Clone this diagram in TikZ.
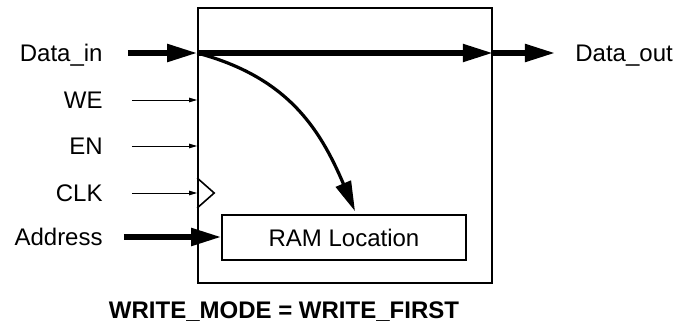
\documentclass[tikz,border=0pt]{standalone}
\usepackage{fontspec}
\setmainfont{Liberation Sans}
\usetikzlibrary{arrows.meta}

\begin{document}
\begin{tikzpicture}[
    x=0.5pt,y=-0.5pt,
    every node/.style={font=\fontsize{12}{14}\selectfont},
    sigtext/.style={inner sep=0pt,text height=8.6pt,text depth=0pt},
    block/.style={draw,line width=0.8pt,inner sep=0pt},
    busarrow/.style={-{Triangle[length=15pt,width=8.5pt]},line width=2.6pt},
    ctrlarrow/.style={-{Triangle[length=4pt,width=2.2pt]},line width=0.5pt},
    writearrow/.style={-{Triangle[length=15pt,width=8pt]},line width=1.6pt}
  ]
  \useasboundingbox (0,0) rectangle (677,322);

  \node[block,minimum width=147pt,minimum height=137.5pt] (mem) at (345,145.5) {};
  \node[block,minimum width=122pt,minimum height=22.5pt] (ram) at (344,237.5) {RAM Location};

  % port names
  \node[sigtext,anchor=east] (din) at (103,53) {Data\_in};
  \node[sigtext,anchor=east] (we) at (103,100) {WE};
  \node[sigtext,anchor=east] (en) at (103,146) {EN};
  \node[sigtext,anchor=east] (clk) at (103,193) {CLK};
  \node[sigtext,anchor=east] (addr) at (103,237) {Address};
  \node[sigtext,anchor=west] (dout) at (575,53) {Data\_out};

  \draw[busarrow] ([xshift=12.5pt]din.east) -- (din.east -| mem.west);
  \draw[ctrlarrow] ([xshift=14.5pt]we.east) -- (we.east -| mem.west);
  \draw[ctrlarrow] ([xshift=14.5pt]en.east) -- (en.east -| mem.west);
  \draw[ctrlarrow] ([xshift=14.5pt]clk.east) -- (clk.east -| mem.west);
  \draw[busarrow] ([xshift=10.5pt]addr.east) -- (addr.east -| ram.west);

  % clock input
  \coordinate (clkpin) at (clk.east -| mem.west);
  \draw[line width=0.8pt] ([yshift=7.5pt]clkpin) -- ([xshift=8.5pt]clkpin)
    -- ([yshift=-7.5pt]clkpin);

  % data path
  \draw[busarrow] (din.east -| mem.west) -- (din.east -| mem.east);
  \draw[busarrow] (din.east -| mem.east) -- ([xshift=-10pt]dout.west);
  \draw[writearrow] (din.east -| mem.west)
    to[out=-15,in=113,looseness=1.05] ([xshift=5.5pt,yshift=1.5pt]ram.north);

  \node[anchor=base,font=\fontsize{12}{14}\selectfont\bfseries] (mode) at (284,318)
    {WRITE\_MODE = WRITE\_FIRST};
\end{tikzpicture}
\end{document}
